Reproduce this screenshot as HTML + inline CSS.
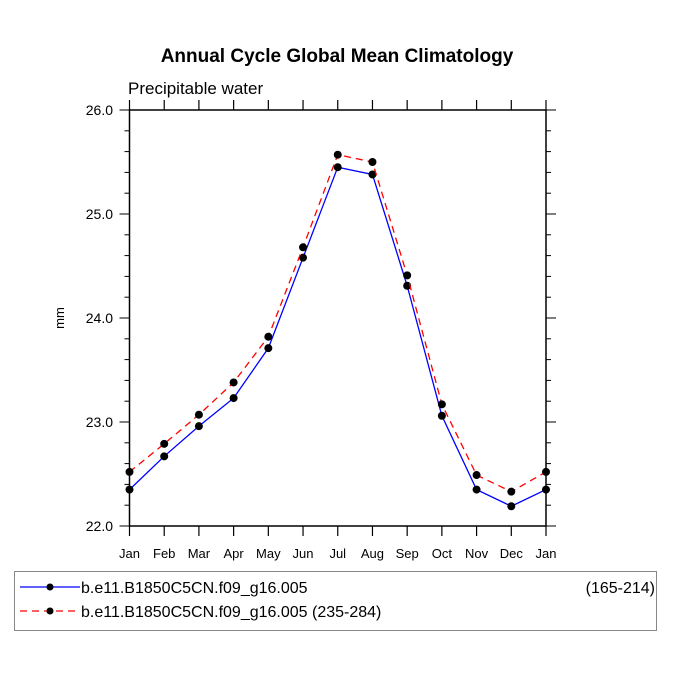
<!DOCTYPE html>
<html><head><meta charset="utf-8"><style>
body{margin:0;background:#fff;}
svg{display:block;font-family:"Liberation Sans",sans-serif;}
</style></head><body>
<svg id="chart" width="675" height="676">
<text x="337" y="62" text-anchor="middle" font-size="19" font-weight="bold">Annual Cycle Global Mean Climatology</text>
<text x="128" y="94" font-size="17">Precipitable water</text>
<text transform="translate(64,318) rotate(-90)" text-anchor="middle" font-size="13">mm</text>
<g id="axes"></g>
<g id="series"></g>
<rect x="14.5" y="571.5" width="642" height="59" fill="none" stroke="#888"/>
<g>
<line x1="20" y1="587" x2="80" y2="587" stroke="#00f" stroke-width="1.2"/>
<circle cx="50" cy="587" r="3.5" fill="#000"/>
<text x="81" y="593" font-size="16">b.e11.B1850C5CN.f09_g16.005</text>
<text x="655" y="593" font-size="16" text-anchor="end">(165-214)</text>
</g>
<g>
<line x1="20" y1="611" x2="80" y2="611" stroke="#f00" stroke-width="1.2" stroke-dasharray="7,5"/>
<circle cx="50" cy="611" r="3.5" fill="#000"/>
<text x="81" y="617" font-size="16">b.e11.B1850C5CN.f09_g16.005 (235-284)</text>
</g>
</svg>
<script>
const months=["Jan","Feb","Mar","Apr","May","Jun","Jul","Aug","Sep","Oct","Nov","Dec","Jan"];
const blueVals=[22.35,22.67,22.96,23.23,23.71,24.58,25.45,25.38,24.31,23.06,22.35,22.19,22.35];
const redVals=[22.52,22.79,23.07,23.38,23.82,24.68,25.57,25.50,24.41,23.17,22.49,22.33,22.52];
const yTicks=[22,23,24,25,26];
const yTickLabels=["22.0","23.0","24.0","25.0","26.0"];
const X0=129.5,X1=546,Y0=526,Y1=110,YMIN=22,YMAX=26;
function xs(i){return X0+(X1-X0)*i/(months.length-1);}
function ys(v){return Y0-(v-YMIN)/(YMAX-YMIN)*(Y0-Y1);}
const NS="http://www.w3.org/2000/svg";
const ax=document.getElementById('axes'),se=document.getElementById('series');
function mk(t,a,p){const e=document.createElementNS(NS,t);for(const k in a)e.setAttribute(k,a[k]);p.appendChild(e);return e;}
const fr=mk('rect',{x:X0,y:Y1,width:X1-X0,height:Y0-Y1,fill:'none',stroke:'#000','stroke-width':1.5},ax);


months.forEach((m,i)=>{
 const x=xs(i);
 mk('line',{x1:x,y1:Y0,x2:x,y2:Y0+10,stroke:'#000','stroke-width':1.2},ax);
 mk('line',{x1:x,y1:Y1,x2:x,y2:Y1-10,stroke:'#000','stroke-width':1.2},ax);
 const t=mk('text',{x:x,y:558,'text-anchor':'middle','font-size':13},ax);t.textContent=m;
 
 
});
for(let v=YMIN;v<=YMAX+1e-9;v+=0.2){
 const y=ys(v),maj=Math.abs(v-Math.round(v))<1e-6,L=maj?10:5;
 mk('line',{x1:X0-L,y1:y,x2:X0,y2:y,stroke:'#000','stroke-width':1},ax);
 mk('line',{x1:X1,y1:y,x2:X1+L,y2:y,stroke:'#000','stroke-width':1},ax);
}
yTicks.forEach((v,i)=>{
 const t=mk('text',{x:113,y:ys(v)+5,'text-anchor':'end','font-size':14},ax);t.textContent=yTickLabels[i];
 
 
});
function series(vals,color,dash,name){
 const g=mk('g',{},se);
 
 
 const a={points:vals.map((v,i)=>xs(i)+','+ys(v)).join(' '),fill:'none',stroke:color,'stroke-width':1.3};
 if(dash)a['stroke-dasharray']=dash;
 mk('polyline',a,g);
 vals.forEach((v,i)=>{const c=mk('circle',{cx:xs(i),cy:ys(v),r:4,fill:'#000'},g);
  
  });
}
series(blueVals,'#00f',null,'series-165-214');
series(redVals,'#f00','7,5','series-235-284');
</script>
</body></html>
